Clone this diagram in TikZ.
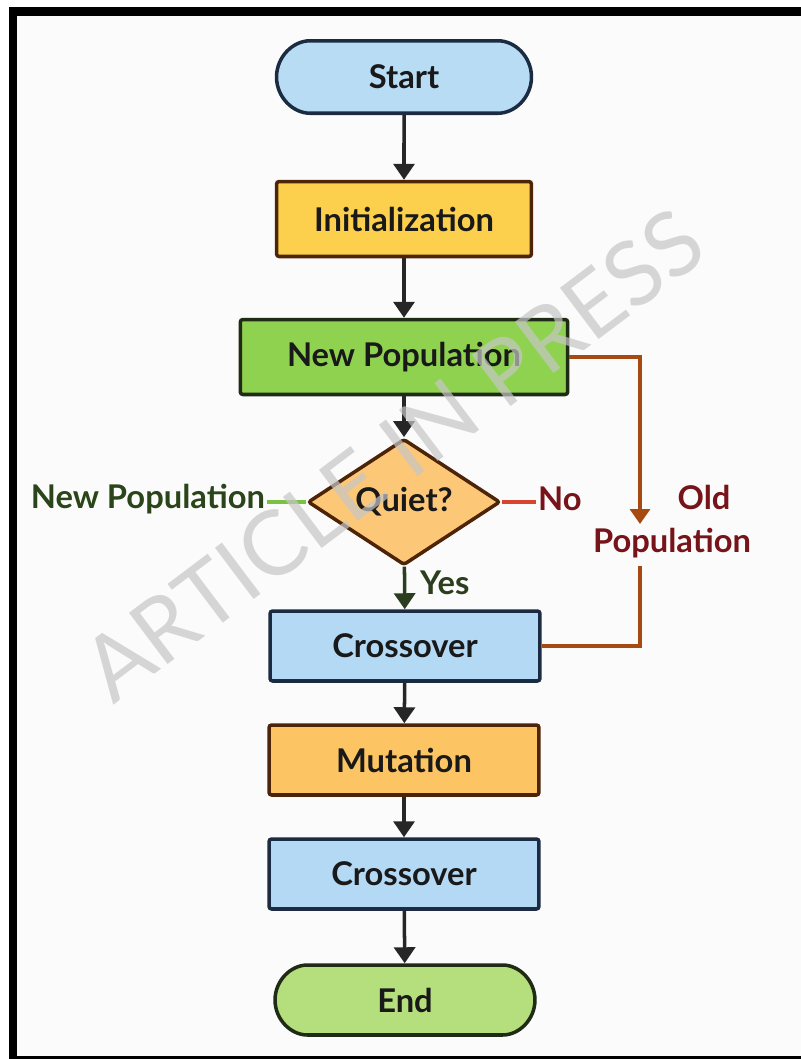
\documentclass[tikz,border=0pt]{standalone}
\usepackage{fontspec}
\setmainfont{Lato}
\usepackage{xcolor}
\usetikzlibrary{positioning,arrows.meta,shapes.geometric,shapes.misc}

\definecolor{startblue}{HTML}{B9DCF5}
\definecolor{navyline}{HTML}{1B2C42}
\definecolor{initgold}{HTML}{FCD04C}
\definecolor{brownline}{HTML}{4E2408}
\definecolor{popgreen}{HTML}{8FD24F}
\definecolor{darkgreen}{HTML}{1F2B15}
\definecolor{quietorange}{HTML}{FCC878}
\definecolor{mutorange}{HTML}{FCC462}
\definecolor{crossblue}{HTML}{B4D9F5}
\definecolor{endgreen}{HTML}{B5DF7C}
\definecolor{yesgreen}{HTML}{2B3F1E}
\definecolor{newgreen}{HTML}{7BC143}
\definecolor{labgreen}{HTML}{2A4519}
\definecolor{nored}{HTML}{D9442F}
\definecolor{labred}{HTML}{761419}
\definecolor{oldbrown}{HTML}{A64A12}
\definecolor{paper}{HTML}{FBFBFB}

\begin{document}
\begin{tikzpicture}[
    x=0.02cm, y=-0.02cm,
    >={Triangle[length=3.2mm, width=4.2mm]},
    every box/.style={draw, line width=2pt, rounded corners=1.5pt, inner sep=0pt,
      font=\fontsize{18.6}{22}\selectfont\bfseries, text=black!90},
    term box/.style={every box, rounded rectangle, minimum width=5.1cm, minimum height=1.45cm},
    proc box/.style={every box, minimum width=5.4cm, minimum height=1.4cm},
    side label/.style={font=\fontsize{18.6}{22}\selectfont\bfseries, inner sep=1pt},
    flow/.style={->, line width=2pt, black!85}
]
    % frame
    \fill[white] (0,0) rectangle (801,1059);
    \fill[black] (9,7) rectangle (801,1059);
    \fill[paper] (17,16) rectangle (801,1056);

    \node[term box, fill=startblue, draw=navyline] (start) at (404,77) {Start};
    \node[proc box, fill=initgold, draw=brownline, minimum width=5.1cm, minimum height=1.5cm] (init) at (404,219) {Initialization};
    \node[proc box, fill=popgreen, draw=darkgreen, minimum width=6.55cm, minimum height=1.5cm] (newpop) at (404,357) {New Population};
    \node[every box, diamond, fill=quietorange, draw=brownline, minimum width=3.85cm, minimum height=2.35cm] (quiet) at (404,502) {Quiet?};
    \node[proc box, fill=crossblue, draw=navyline] (cross1) at (405,646) {Crossover};
    \node[proc box, fill=mutorange, draw=brownline] (mut) at (404,760) {Mutation};
    \node[proc box, fill=crossblue, draw=navyline] (cross2) at (404,874) {Crossover};
    \node[term box, fill=endgreen, draw=darkgreen, minimum width=5.2cm, minimum height=1.4cm] (fin) at (405,1000) {End};

    \foreach \a/\b in {start/init, init/newpop, newpop/quiet, cross1/mut, mut/cross2, cross2/fin}
      \draw[flow] (\a) -- (\b);
    \draw[flow, yesgreen] (quiet) -- (cross1);
    \node[side label, text=yesgreen, anchor=west] (yes) at (418,583) {Yes};

    % side branches of the test
    \node[side label, text=labgreen, anchor=east] (newlbl) at (267,499) {New Population};
    \draw[newgreen, line width=2pt] (quiet.west) -- (quiet.west -| newlbl.east);
    \node[side label, text=labred, anchor=west] (nolbl) at (536,499) {No};
    \draw[nored, line width=2pt] (quiet.east) -- (quiet.east -| nolbl.west);

    % old population loop
    \coordinate (oldtop) at (640,524);
    \coordinate (oldbot) at (640,566);
    \node[side label, text=labred] (oldlbl) at (704,497) {Old};
    \node[side label, text=labred] (poplbl) at (672,543) {Population};
    \draw[->, oldbrown, line width=2pt, >={Triangle[length=3mm, width=4mm]}] (newpop.east) -| (oldtop);
    \draw[oldbrown, line width=2pt] (oldbot) |- (cross1.east);

    % watermark
    \node[rotate=37, text=gray!45, opacity=0.7, font=\fontsize{51}{54}\selectfont] (mark) at (393,455) {ARTICLE IN PRESS};
\end{tikzpicture}
\end{document}
